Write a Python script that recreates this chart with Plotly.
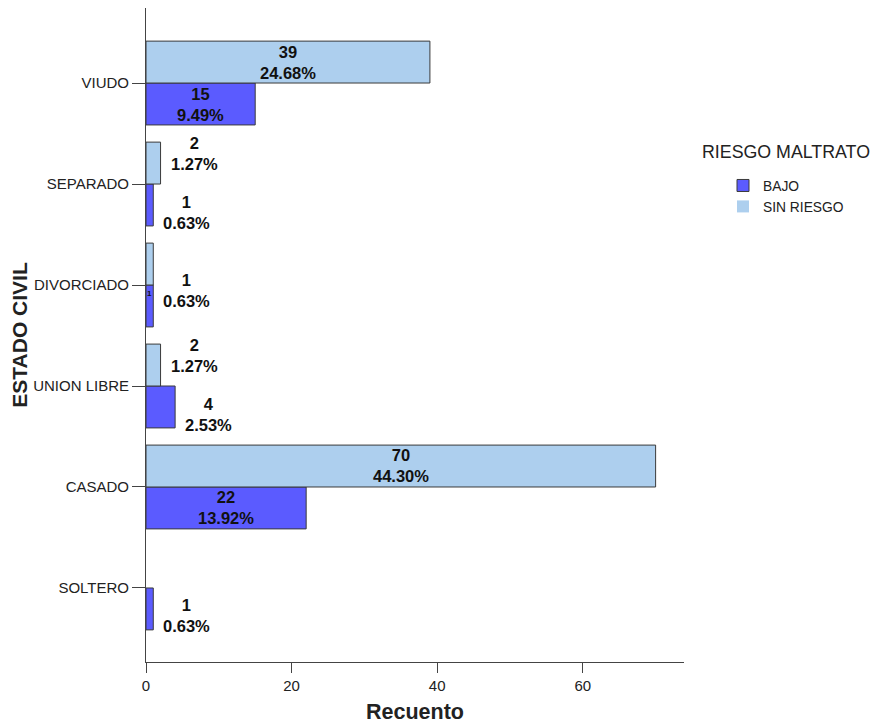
import plotly.graph_objects as go

# ---- data ----
categories = ["SOLTERO", "CASADO", "UNION LIBRE", "DIVORCIADO", "SEPARADO", "VIUDO"]
bajo = [1, 22, 4, 1, 1, 15]
sin_riesgo = [0, 70, 2, 1, 2, 39]
bajo_pct = ["0.63%", "13.92%", "2.53%", "0.63%", "0.63%", "9.49%"]
sin_riesgo_pct = ["", "44.30%", "1.27%", "0.63%", "1.27%", "24.68%"]
x_ticks = [0, 20, 40, 60]

# ---- style ----
C_BAJO = "#5B5BFF"
C_SR = "#ADCFEE"
EDGE = "#3a3a3a"
FONT = "Liberation Sans, Arial, sans-serif"
TXT = "#111111"
INSIDE_MIN = 10

def edge_widths(vals):
    return [0 if v == 0 else 1 for v in vals]

fig = go.Figure()
fig.add_trace(go.Bar(y=categories, x=bajo, orientation="h", name="BAJO",
                     marker=dict(color=C_BAJO, line=dict(color=EDGE, width=edge_widths(bajo)))))
fig.add_trace(go.Bar(y=categories, x=sin_riesgo, orientation="h", name="SIN RIESGO",
                     marker=dict(color=C_SR, line=dict(color=EDGE, width=edge_widths(sin_riesgo)))))

annotations = []
def add_label(val, pct, cat, top, override_yshift=None):
    if val == 0:
        return
    txt = f"<b>{val}<br>{pct}</b>"
    if val >= INSIDE_MIN:
        annotations.append(dict(x=val / 2, y=cat, xref="x", yref="y", text=txt,
                                showarrow=False, xanchor="center", yanchor="middle",
                                yshift=21 if top else -21,
                                font=dict(family=FONT, size=16.5, color=TXT)))
    else:
        ys = (31 if top else -28) if override_yshift is None else override_yshift
        annotations.append(dict(x=val, y=cat, xref="x", yref="y", text=txt,
                                showarrow=False, xanchor="left", yanchor="middle",
                                xshift=8, yshift=ys,
                                font=dict(family=FONT, size=16.5, color=TXT)))

for c, v, p in zip(categories, sin_riesgo, sin_riesgo_pct):
    if c == "DIVORCIADO":
        add_label(v, p, c, True, override_yshift=-5)
    else:
        add_label(v, p, c, True)
for c, v, p in zip(categories, bajo, bajo_pct):
    if c == "DIVORCIADO":
        annotations.append(dict(x=v / 2, y=c, xref="x", yref="y", text=f"<b>{v}</b>",
                                showarrow=False, xanchor="center", yanchor="middle",
                                yshift=-8, font=dict(family=FONT, size=8, color=TXT)))
    else:
        add_label(v, p, c, False)

W, H = 884, 723
PAGE_OFF = 8  # page body margin of the html page
L, R, T, B = 146 - PAGE_OFF, 200 + PAGE_OFF, 8 - PAGE_OFF, 61 + PAGE_OFF
pw, ph = W - L - R, H - T - B
SCR_LEFT, SCR_BOTTOM = 146, 662  # screen pixel position of plot-area corner

def px_x(s):
    return (s - SCR_LEFT) / pw

def px_y(s):
    return (SCR_BOTTOM - s) / ph

annotations.append(dict(x=px_x(700), y=px_y(152), xref="paper", yref="paper",
                        text="RIESGO MALTRATO", showarrow=False, xanchor="left", yanchor="middle",
                        font=dict(family=FONT, size=17.8, color="#222")))

fig.update_layout(
    width=W, height=H,
    margin=dict(l=L, r=R, t=T, b=B),
    paper_bgcolor="white", plot_bgcolor="white",
    barmode="group", bargap=0.17, bargroupgap=0,
    font=dict(family=FONT, color="#222"),
    showlegend=True,
    legend=dict(x=px_x(723), y=px_y(170), xanchor="left", yanchor="top",
                font=dict(family=FONT, size=13.8, color="#222"),
                bgcolor="rgba(0,0,0,0)", borderwidth=0, tracegroupgap=0),
    annotations=annotations,
    xaxis=dict(range=[0, 73.9], tickvals=x_ticks, showgrid=False, zeroline=False,
               automargin=False,
               showline=True, linecolor="#444", linewidth=1,
               ticks="outside", ticklen=10, tickcolor="#444",
               tickfont=dict(family=FONT, size=15, color="#222"),
               title=dict(text="<b>Recuento</b>", font=dict(family=FONT, size=21.5, color="#222"),
                          standoff=10)),
    yaxis=dict(type="category", categoryorder="array", categoryarray=categories,
               range=[-0.733, 5.743], showgrid=False, zeroline=False,
               automargin=False,
               showline=True, linecolor="#444", linewidth=1,
               ticks="outside", ticklen=13, tickcolor="#444",
               tickfont=dict(family=FONT, size=15, color="#222"),
               title=dict(text="<b>ESTADO CIVIL</b>", font=dict(family=FONT, size=21, color="#222"),
                          standoff=3)),
)

fig.write_html("out.html")
